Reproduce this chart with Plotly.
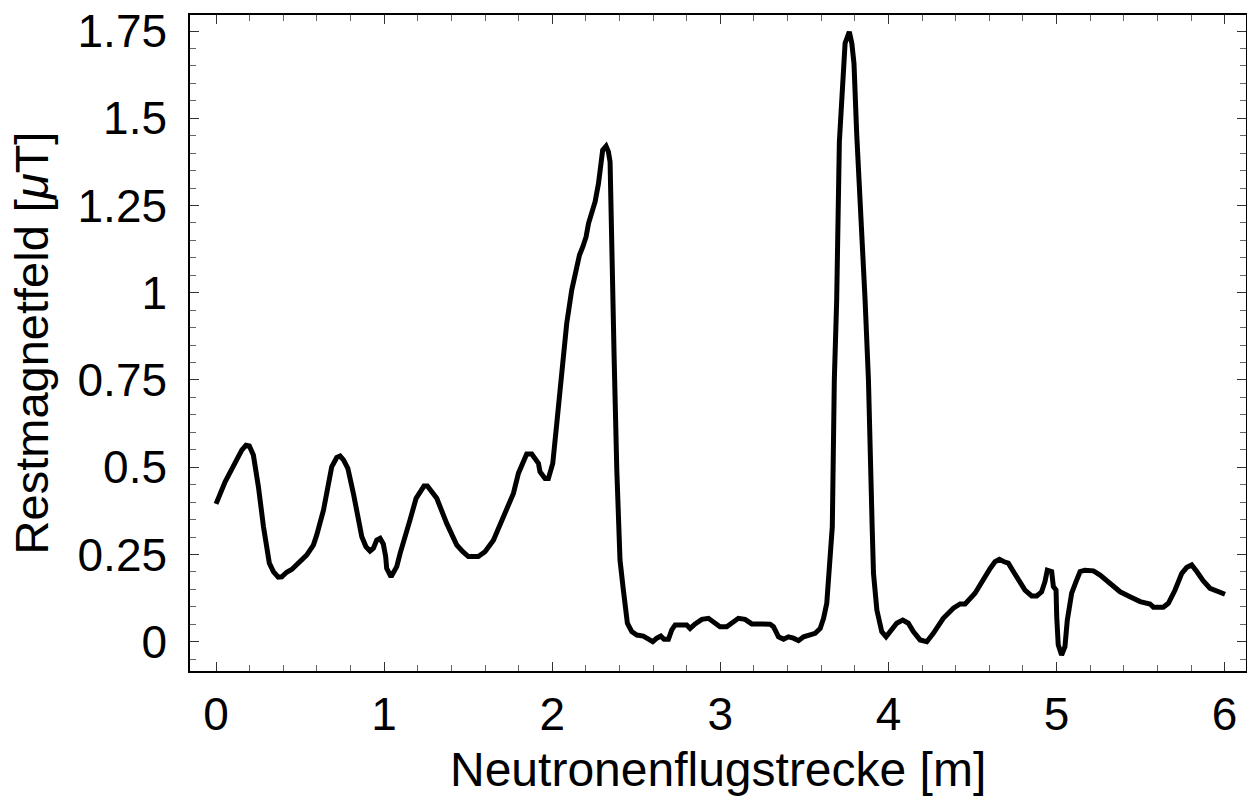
import plotly.graph_objects as go

distance_m = [
    0.000, 0.054, 0.103, 0.153, 0.178, 0.198, 0.222, 0.252, 0.282, 0.305,
    0.317, 0.341, 0.370, 0.391, 0.420, 0.450, 0.490, 0.539, 0.579, 0.599,
    0.639, 0.688, 0.718, 0.738, 0.758, 0.784, 0.817, 0.867, 0.892, 0.916,
    0.936, 0.956, 0.976, 0.995, 1.009, 1.015, 1.041, 1.059, 1.075, 1.095,
    1.114, 1.154, 1.190, 1.214, 1.237, 1.257, 1.283, 1.313, 1.372, 1.432,
    1.468, 1.501, 1.560, 1.600, 1.650, 1.709, 1.769, 1.799, 1.828, 1.848,
    1.878, 1.918, 1.927, 1.957, 1.977, 2.003, 2.027, 2.056, 2.086, 2.116,
    2.142, 2.162, 2.182, 2.201, 2.216, 2.236, 2.255, 2.275, 2.289, 2.300,
    2.320, 2.334, 2.344, 2.347, 2.354, 2.358, 2.368, 2.384, 2.393, 2.403,
    2.423, 2.433, 2.447, 2.473, 2.503, 2.542, 2.572, 2.598, 2.622, 2.646,
    2.665, 2.691, 2.711, 2.731, 2.800, 2.820, 2.850, 2.890, 2.929, 2.959,
    2.998, 3.038, 3.068, 3.107, 3.147, 3.187, 3.236, 3.296, 3.316, 3.346,
    3.376, 3.405, 3.435, 3.465, 3.495, 3.534, 3.564, 3.594, 3.614, 3.633,
    3.643, 3.653, 3.666, 3.678, 3.692, 3.708, 3.720, 3.725, 3.742, 3.767,
    3.782, 3.795, 3.811, 3.861, 3.881, 3.903, 3.911, 3.931, 3.960, 3.986,
    4.010, 4.049, 4.085, 4.118, 4.148, 4.188, 4.228, 4.267, 4.326, 4.386,
    4.426, 4.456, 4.515, 4.555, 4.605, 4.634, 4.660, 4.688, 4.713, 4.743,
    4.783, 4.812, 4.852, 4.882, 4.911, 4.931, 4.945, 4.971, 4.981, 4.997,
    5.001, 5.010, 5.030, 5.050, 5.064, 5.090, 5.116, 5.140, 5.169, 5.219,
    5.259, 5.318, 5.378, 5.437, 5.497, 5.556, 5.576, 5.635, 5.665, 5.705,
    5.745, 5.775, 5.804, 5.834, 5.873, 5.913, 5.953, 6.002,
]

field_uT = [
    0.395, 0.458, 0.503, 0.549, 0.563, 0.561, 0.535, 0.444, 0.330, 0.258,
    0.225, 0.201, 0.185, 0.186, 0.199, 0.207, 0.225, 0.248, 0.277, 0.306,
    0.377, 0.501, 0.528, 0.532, 0.521, 0.497, 0.425, 0.301, 0.272, 0.260,
    0.268, 0.291, 0.296, 0.280, 0.244, 0.210, 0.186, 0.201, 0.215, 0.253,
    0.282, 0.349, 0.411, 0.430, 0.446, 0.446, 0.430, 0.411, 0.339, 0.277,
    0.258, 0.244, 0.244, 0.258, 0.291, 0.358, 0.425, 0.483, 0.521, 0.538,
    0.538, 0.511, 0.487, 0.468, 0.468, 0.511, 0.626, 0.769, 0.912, 1.008,
    1.075, 1.108, 1.132, 1.160, 1.199, 1.232, 1.261, 1.313, 1.371, 1.409,
    1.420, 1.404, 1.375, 1.294, 1.189, 0.979, 0.817, 0.492, 0.400, 0.234,
    0.148, 0.091, 0.053, 0.029, 0.019, 0.016, 0.007, 0.000, 0.010, 0.016,
    0.007, 0.007, 0.034, 0.048, 0.048, 0.038, 0.051, 0.064, 0.067, 0.057,
    0.043, 0.043, 0.054, 0.067, 0.064, 0.051, 0.051, 0.050, 0.043, 0.014,
    0.007, 0.014, 0.010, 0.003, 0.014, 0.019, 0.024, 0.038, 0.067, 0.110,
    0.177, 0.234, 0.330, 0.750, 0.979, 1.433, 1.533, 1.605, 1.715, 1.748,
    1.715, 1.657, 1.457, 0.979, 0.750, 0.330, 0.196, 0.091, 0.029, 0.014,
    0.029, 0.053, 0.062, 0.053, 0.029, 0.005, 0.000, 0.024, 0.067, 0.096,
    0.108, 0.108, 0.139, 0.172, 0.210, 0.229, 0.236, 0.229, 0.225, 0.201,
    0.172, 0.148, 0.131, 0.131, 0.143, 0.172, 0.205, 0.201, 0.158, 0.148,
    0.072, -0.009, -0.038, -0.014, 0.062, 0.139, 0.172, 0.201, 0.205, 0.203,
    0.191, 0.165, 0.143, 0.129, 0.115, 0.108, 0.099, 0.099, 0.110, 0.148,
    0.196, 0.213, 0.220, 0.201, 0.174, 0.153, 0.146, 0.136,
]

x_tick_vals = [0, 1, 2, 3, 4, 5, 6]
x_tick_text = ["0", "1", "2", "3", "4", "5", "6"]
y_tick_vals = [0, 0.25, 0.5, 0.75, 1, 1.25, 1.5, 1.75]
y_tick_text = ["0", "0.25", "0.5", "0.75", "1", "1.25", "1.5", "1.75"]

x_title = "Neutronenflugstrecke [m]"
y_title = "Restmagnetfeld [<i>μ</i>T]"

FONT = "Liberation Sans, Arial, sans-serif"

fig = go.Figure()
fig.add_trace(go.Scatter(
    x=distance_m, y=field_uT, mode="lines",
    line=dict(color="black", width=5),
    showlegend=False, hoverinfo="skip",
))

axis_common = dict(
    showgrid=False, zeroline=False,
    showline=True, linecolor="black", linewidth=1.5, mirror="ticks",
    ticks="inside", ticklen=9, tickwidth=1.2, tickcolor="#333333",
    tickfont=dict(family=FONT, size=46, color="black"),
)

fig.update_xaxes(
    **axis_common,
    range=[-0.155, 6.127],
    tickvals=x_tick_vals, ticktext=x_tick_text,
    minor=dict(ticks="inside", ticklen=6, tickwidth=1, tickcolor="#666666", dtick=0.2, tick0=0),
    ticklabelstandoff=2,
)
fig.update_yaxes(
    **axis_common,
    range=[-0.084, 1.796],
    tickvals=y_tick_vals, ticktext=y_tick_text,
    minor=dict(ticks="inside", ticklen=6, tickwidth=1, tickcolor="#666666", dtick=0.05, tick0=0),
    ticklabelstandoff=12,
    title=dict(text=y_title, font=dict(family=FONT, size=47, color="black"), standoff=14),
)

fig.add_annotation(
    text=x_title, xref="paper", yref="paper", x=0.5, y=-0.150,
    xanchor="center", yanchor="middle", showarrow=False,
    font=dict(family=FONT, size=48, color="black"),
)

fig.update_layout(
    width=1247, height=798,
    margin=dict(l=190, r=1, t=15, b=127, autoexpand=False),
    paper_bgcolor="white", plot_bgcolor="white",
)

fig.write_html("out.html", config={"displayModeBar": False},
               post_script="document.body.style.margin='0';")
